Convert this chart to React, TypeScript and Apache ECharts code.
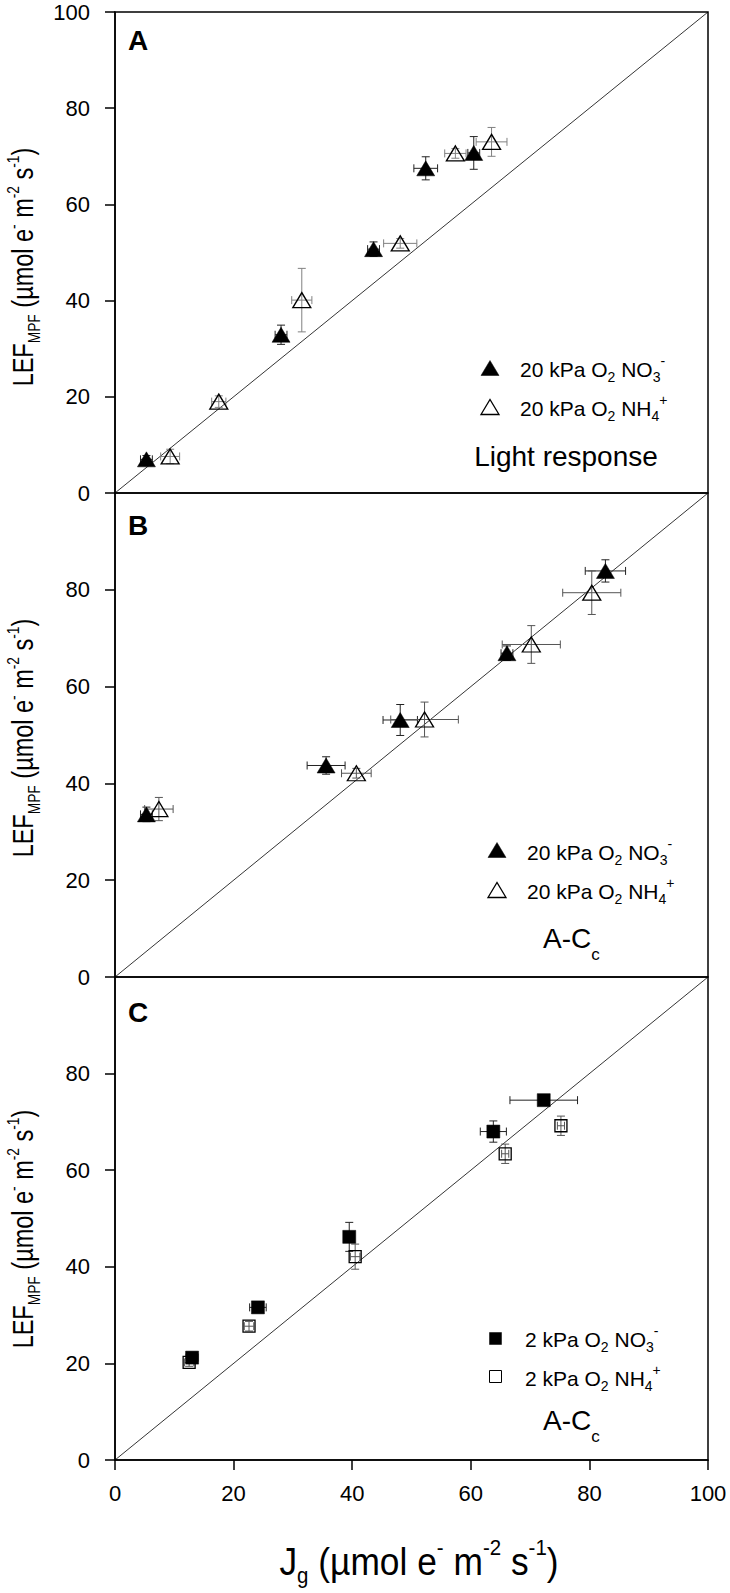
import React, { useEffect, useRef } from "react";
import * as echarts from "echarts";

const FONT = '"Liberation Sans", Arial, Helvetica, sans-serif';

// axis settings (same scale in all three panels)
const AXIS_MIN = 0;
const AXIS_MAX = 100;
const AXIS_STEP = 20;

// diagonal 1:1 reference line
const oneToOne = [[0, 0], [100, 100]];

// [Jg, LEF_MPF, x error, y error]
// Panel A – light response, 20 kPa O2
const panelA_NO3 = [
  [5.3, 7.0, 1.0, 0.8],
  [28.0, 32.9, 1.0, 2.0],
  [43.6, 50.7, 1.0, 1.5],
  [52.4, 67.5, 2.0, 2.4],
  [60.5, 70.7, 1.0, 3.4],
];
const panelA_NH4 = [
  [9.3, 7.6, 1.6, 1.5],
  [17.5, 19.0, 1.2, 1.2],
  [31.5, 40.1, 1.7, 6.6],
  [48.1, 51.9, 2.8, 1.0],
  [57.4, 70.6, 1.8, 1.0],
  [63.5, 73.0, 2.6, 3.0],
];
// Panel B – A-Cc, 20 kPa O2
const panelB_NO3 = [
  [5.3, 33.6, 1.0, 1.5],
  [35.6, 43.7, 3.2, 1.8],
  [48.1, 53.1, 2.9, 3.2],
  [66.1, 66.9, 1.0, 1.5],
  [82.7, 83.9, 3.4, 2.3],
];
const panelB_NH4 = [
  [7.4, 34.7, 2.4, 2.4],
  [40.7, 42.1, 2.5, 1.0],
  [52.2, 53.2, 5.7, 3.6],
  [70.2, 68.7, 4.9, 3.9],
  [80.4, 79.4, 4.9, 4.5],
];
// Panel C – A-Cc, 2 kPa O2
const panelC_NO3 = [
  [13.0, 21.2, 1.0, 0.8],
  [24.1, 31.6, 1.4, 0.8],
  [39.5, 46.2, 0.8, 3.0],
  [63.8, 68.0, 2.2, 2.2],
  [72.3, 74.5, 5.7, 0.6],
];
const panelC_NH4 = [
  [12.5, 20.2, 0.8, 0.8],
  [22.6, 27.7, 0.8, 1.0],
  [40.5, 42.1, 0.8, 2.6],
  [65.8, 63.4, 0.6, 2.0],
  [75.2, 69.2, 0.6, 2.0],
];

const panelLetters = ["A", "B", "C"];
const legendA = ["20 kPa O", "2", " NO", "3", "-", "20 kPa O", "2", " NH", "4", "+"];
const legendC = ["2 kPa O", "2", " NO", "3", "-", "2 kPa O", "2", " NH", "4", "+"];

const GRIDS = [
  { top: 12, height: 481 },
  { top: 493, height: 484 },
  { top: 977, height: 483 },
];

const makeErr = (color: string) => (params: any, api: any) => {
  const x = api.value(0), y = api.value(1), ex = api.value(2), ey = api.value(3);
  const c = api.coord([x, y]);
  const l = api.coord([x - ex, y])[0];
  const r = api.coord([x + ex, y])[0];
  const t = api.coord([x, y + ey])[1];
  const b = api.coord([x, y - ey])[1];
  const cap = 4;
  const style = { stroke: color, lineWidth: 1, fill: "none" };
  return {
    type: "group",
    children: [
      { type: "line", shape: { x1: l, y1: c[1], x2: r, y2: c[1] }, style },
      { type: "line", shape: { x1: l, y1: c[1] - cap, x2: l, y2: c[1] + cap }, style },
      { type: "line", shape: { x1: r, y1: c[1] - cap, x2: r, y2: c[1] + cap }, style },
      { type: "line", shape: { x1: c[0], y1: t, x2: c[0], y2: b }, style },
      { type: "line", shape: { x1: c[0] - cap, y1: t, x2: c[0] + cap, y2: t }, style },
      { type: "line", shape: { x1: c[0] - cap, y1: b, x2: c[0] + cap, y2: b }, style },
    ],
  };
};

const legRich = {
  m: { fontSize: 21, fontFamily: FONT, lineHeight: 30, verticalAlign: "middle", fill: "#000" },
  b: { fontSize: 14, fontFamily: FONT, lineHeight: 14, verticalAlign: "bottom", fill: "#000" },
  p: { fontSize: 14, fontFamily: FONT, lineHeight: 12, verticalAlign: "top", fill: "#000" },
};

function richText(parts: string[]) {
  // parts: main, sub, main, sub, sup
  return `{m|${parts[0]}}{b|${parts[1]}}{m|${parts[2]}}{b|${parts[3]}}{p|${parts[4]}}`;
}

function textEl(x: number, y: number, text: string, rich: any, extra: any = {}) {
  return {
    type: "text",
    x,
    y,
    ...extra,
    style: {
      text,
      rich,
      fill: "#000",
      textAlign: extra.align || "left",
      align: extra.align || "left",
      textVerticalAlign: "middle",
      verticalAlign: "middle",
    },
  };
}

export default function App() {
  const ref = useRef<HTMLDivElement>(null);

  useEffect(() => {
    if (!ref.current) return;
    const chart = echarts.init(ref.current, undefined, { renderer: "svg" });

    const panels = [
      { no3: panelA_NO3, nh4: panelA_NH4, sym: "triangle", size: [18, 15] },
      { no3: panelB_NO3, nh4: panelB_NH4, sym: "triangle", size: [18, 15] },
      { no3: panelC_NO3, nh4: panelC_NH4, sym: "rect", size: [13, 13] },
    ];

    const series: any[] = [];
    panels.forEach((p, i) => {
      series.push({
        type: "line",
        xAxisIndex: i,
        yAxisIndex: i,
        data: oneToOne,
        symbol: "none",
        silent: true,
        lineStyle: { color: "#000", width: 0.8 },
        z: 1,
      });
      series.push({
        type: "custom",
        xAxisIndex: i,
        yAxisIndex: i,
        dimensions: ["x", "y", "ex", "ey"],
        encode: { x: 0, y: 1 },
        data: p.no3,
        renderItem: makeErr("#222"),
        silent: true,
        clip: false,
        z: 2,
      });
      series.push({
        type: "custom",
        xAxisIndex: i,
        yAxisIndex: i,
        dimensions: ["x", "y", "ex", "ey"],
        encode: { x: 0, y: 1 },
        data: p.nh4,
        renderItem: makeErr(i === 0 ? "#808080" : "#555"),
        silent: true,
        clip: false,
        z: 2,
      });
      series.push({
        type: "scatter",
        xAxisIndex: i,
        yAxisIndex: i,
        data: p.no3.map((d) => [d[0], d[1]]),
        symbol: p.sym,
        symbolSize: p.size,
        itemStyle: { color: "#000", borderColor: "#000", borderWidth: 0.5, opacity: 1 },
        silent: true,
        z: 3,
      });
      series.push({
        type: "scatter",
        xAxisIndex: i,
        yAxisIndex: i,
        data: p.nh4.map((d) => [d[0], d[1]]),
        symbol: p.sym,
        symbolSize: i === 2 ? [12, 12] : p.size,
        itemStyle: { color: "rgba(0,0,0,0)", borderColor: "#000", borderWidth: 1.3, opacity: 1 },
        silent: true,
        z: 3,
      });
    });

    const triUp = (cx: number, cy: number, filled: boolean) => ({
      type: "polygon",
      shape: { points: [[cx - 9, cy + 7.5], [cx + 9, cy + 7.5], [cx, cy - 7.5]] },
      style: filled ? { fill: "#000", stroke: "#000", lineWidth: 0.5 } : { fill: "none", stroke: "#000", lineWidth: 1.3 },
    });
    const sq = (cx: number, cy: number, filled: boolean) => ({
      type: "rect",
      shape: { x: cx - 5.5, y: cy - 5.5, width: 12, height: 12 },
      style: filled ? { fill: "#000", stroke: "#000", lineWidth: 0.5 } : { fill: "none", stroke: "#000", lineWidth: 1 },
    });

    const titleRich = (main: number, small: number, lh: number) => ({
      m: { fontSize: main, fontFamily: FONT, lineHeight: lh, verticalAlign: "middle", fill: "#000" },
      b: { fontSize: small, fontFamily: FONT, lineHeight: small, verticalAlign: "bottom", fill: "#000" },
      p: { fontSize: small, fontFamily: FONT, lineHeight: small, verticalAlign: "top", fill: "#000" },
    });
    const bigRich = {
      m: { fontSize: 28, fontFamily: FONT, lineHeight: 50, verticalAlign: "middle", fill: "#000" },
      b: { fontSize: 17, fontFamily: FONT, lineHeight: 16, verticalAlign: "bottom", fill: "#000" },
    };

    const yTitle = "{m|LEF}{b|MPF}{m| (µmol e}{p|-}{m| m}{p|-2}{m| s}{p|-1}{m|)}";
    const xTitle = "{m|J}{b|g}{m| (µmol e}{p|-}{m| m}{p|-2}{m| s}{p|-1}{m|)}";

    const letter = (t: string, y: number) => ({
      type: "text",
      x: 128,
      y,
      style: { text: t, font: `bold 28px ${FONT}`, fill: "#000", textAlign: "left", textVerticalAlign: "middle" },
    });

    const graphic: any[] = [
      letter(panelLetters[0], 40),
      letter(panelLetters[1], 525),
      letter(panelLetters[2], 1012),
      // legends A
      triUp(490, 368, true),
      triUp(490, 407, false),
      textEl(520, 369, richText(legendA.slice(0, 5)), legRich),
      textEl(520, 408, richText(legendA.slice(5)), legRich),
      textEl(566, 456, "{m|Light response}", bigRich, { align: "center" }),
      // legends B
      triUp(497, 850, true),
      triUp(497, 890, false),
      textEl(527, 852, richText(legendA.slice(0, 5)), legRich),
      textEl(527, 891, richText(legendA.slice(5)), legRich),
      textEl(543, 938, "{m|A-C}{b|c}", bigRich),
      // legends C
      sq(495, 1338, true),
      sq(495, 1376, false),
      textEl(525, 1339, richText(legendC.slice(0, 5)), legRich),
      textEl(525, 1378, richText(legendC.slice(5)), legRich),
      textEl(543, 1420, "{m|A-C}{b|c}", bigRich),
      // axis titles
      textEl(23, 267, yTitle, titleRich(29, 17, 38), { align: "center", rotation: Math.PI / 2, scaleX: 0.81 }),
      textEl(23, 738, yTitle, titleRich(29, 17, 38), { align: "center", rotation: Math.PI / 2, scaleX: 0.81 }),
      textEl(23, 1229, yTitle, titleRich(29, 17, 38), { align: "center", rotation: Math.PI / 2, scaleX: 0.81 }),
      textEl(419, 1562, xTitle, titleRich(38, 22, 50), { align: "center", scaleX: 0.93 }),
    ];

    chart.setOption({
      animation: false,
      backgroundColor: "#fff",
      grid: GRIDS.map((g) => ({
        left: 115,
        width: 593,
        top: g.top,
        height: g.height,
        show: true,
        borderColor: "#000",
        borderWidth: 1.5,
        backgroundColor: "rgba(0,0,0,0)",
        containLabel: false,
      })),
      xAxis: GRIDS.map((g, i) => ({
        type: "value",
        gridIndex: i,
        min: AXIS_MIN,
        max: AXIS_MAX,
        interval: AXIS_STEP,
        show: i === 2,
        axisLine: { show: true, onZero: false, lineStyle: { color: "#000", width: 1.5 } },
        axisTick: { show: true, inside: false, length: 10, lineStyle: { color: "#000", width: 1.5 } },
        axisLabel: { margin: 22, fontSize: 22, color: "#000", fontFamily: FONT },
        splitLine: { show: false },
      })),
      yAxis: GRIDS.map((g, i) => ({
        type: "value",
        gridIndex: i,
        min: AXIS_MIN,
        max: AXIS_MAX,
        interval: AXIS_STEP,
        axisLine: { show: true, onZero: false, lineStyle: { color: "#000", width: 1.5 } },
        axisTick: { show: true, inside: false, length: 10, lineStyle: { color: "#000", width: 1.5 } },
        axisLabel: { margin: 25, fontSize: 22, color: "#000", fontFamily: FONT, showMaxLabel: i === 0 },
        splitLine: { show: false },
      })),
      series,
      graphic,
    });

    return () => chart.dispose();
  }, []);

  return (
    <div
      ref={ref}
      style={{ position: "absolute", left: 0, top: 0, width: 730, height: 1593, background: "#fff" }}
    />
  );
}
